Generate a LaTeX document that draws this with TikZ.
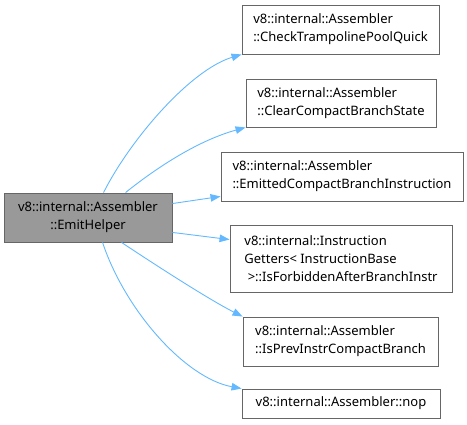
\documentclass[tikz,border=0pt]{standalone}
\usepackage{fontspec}
\setmainfont{Noto Sans}
\usetikzlibrary{arrows.meta}
\definecolor{edgeblue}{HTML}{63B8FF}
\definecolor{boxborder}{HTML}{666666}
\definecolor{mainfill}{HTML}{999999}
\begin{document}
\begin{tikzpicture}[x=1pt,y=-1pt,
  box/.style={draw=boxborder,fill=white,line width=0.9pt,inner sep=0pt,
    font=\fontsize{13}{18}\selectfont,align=left,text=black},
  mainbox/.style={box,fill=mainfill,align=center},
  edge/.style={draw=edgeblue,line width=0.9pt,-{Triangle[length=10pt,width=7.5pt]}}]
\useasboundingbox (0,0) rectangle (467,425);
\node[mainbox,minimum width=168pt,minimum height=49pt] (main) at (88,217.5)
  {v8::internal::Assembler\\::EmitHelper};
\node[box,minimum width=197pt,minimum height=49pt] (b1) at (340.5,29.5)
  {v8::internal::Assembler\\::CheckTrampolinePoolQuick};
\node[box,minimum width=190pt,minimum height=48pt] (b2) at (341,103)
  {v8::internal::Assembler\\::ClearCompactBranchState};
\node[box,minimum width=242pt,minimum height=49pt] (b3) at (342,176.5)
  {v8::internal::Assembler\\::EmittedCompactBranchInstruction};
\node[box,minimum width=222pt,minimum height=67pt] (b4) at (341,258.5)
  {v8::internal::Instruction\\Getters< InstructionBase\\\ >::IsForbiddenAfterBranchInstr};
\node[box,minimum width=195pt,minimum height=49pt] (b5) at (340.5,341.5)
  {v8::internal::Assembler\\::IsPrevInstrCompactBranch};
\node[box,minimum width=198pt,minimum height=29pt] (b6) at (341,403.5)
  {v8::internal::Assembler::nop};
\draw[edge] ([xshift=100pt]main.north west) .. controls (130,140) and (190,70) .. (b1.south west);
\draw[edge] ([xshift=122pt]main.north west) .. controls (160,165) and (200,140) .. (b2.south west);
\draw[edge] ([yshift=-11pt]main.north east) -- ([yshift=5pt]b3.south west);
\draw[edge] ([yshift=10pt]main.south east) -- ([yshift=-15pt]b4.north west);
\draw[edge] ([xshift=118pt]main.south west) .. controls (160,268) and (210,300) .. (b5.north west);
\draw[edge] ([xshift=99pt]main.south west) .. controls (125,310) and (185,378) .. (b6.north west);
\end{tikzpicture}
\end{document}
